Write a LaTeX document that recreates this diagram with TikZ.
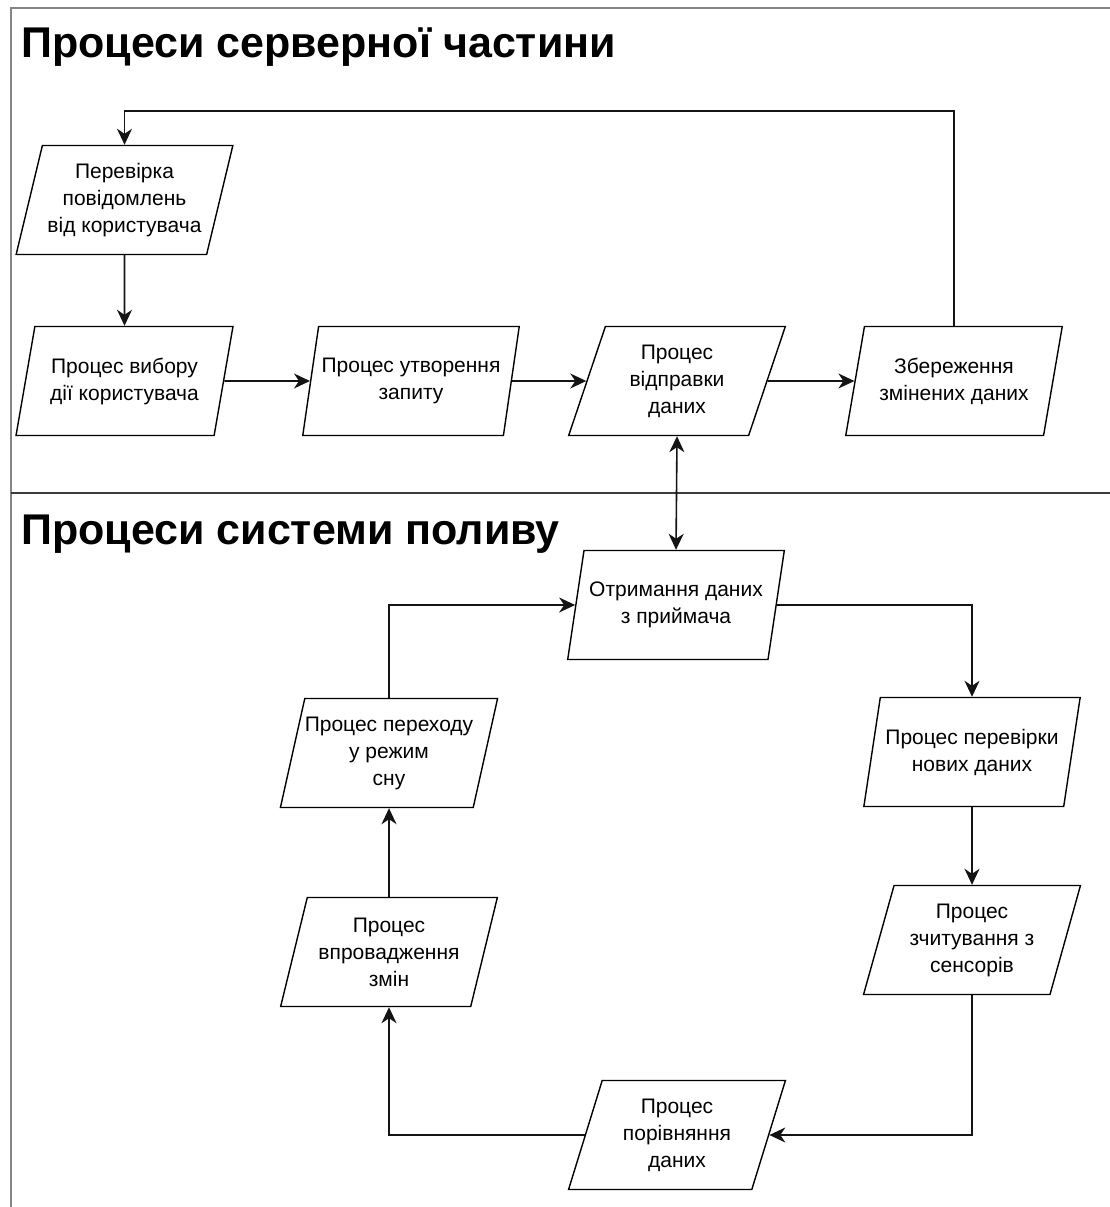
\documentclass[tikz,border=0pt]{standalone}
\usepackage{fontspec}
\setmainfont{Liberation Sans}
\usetikzlibrary{shapes.geometric,arrows.meta}
\definecolor{framegray}{HTML}{858585}
\definecolor{dividergray}{HTML}{3C3C3C}
\definecolor{ink}{HTML}{141414}
\begin{document}
\begin{tikzpicture}[x=1pt,y=-1pt,
  para/.style={draw=black, line width=1.4pt, fill=white,
    trapezium, trapezium left angle=71.5, trapezium right angle=108.5,
    trapezium stretches=true, minimum width=217pt, minimum height=109pt,
    inner sep=0pt, align=center, font=\fontsize{21}{27}\selectfont},
  flow/.style={draw=ink, line width=1.6pt, -{Stealth[length=16pt,width=15pt,inset=5pt]}},
  both/.style={draw=ink, line width=1.6pt, {Stealth[length=16pt,width=15pt,inset=5pt]}-{Stealth[length=16pt,width=15pt,inset=5pt]}},
  heading/.style={anchor=base west, inner sep=0pt, font=\fontsize{43}{50}\selectfont\bfseries},
  frame/.style={draw=framegray, line width=2.8pt},
  divider/.style={draw=dividergray, line width=2.8pt}]
\useasboundingbox[fill=white] (0,0) rectangle (1109,1207);

% lane frame and divider
\draw[frame] (11,1215) -- (11,8) -- (1115,8);
\draw[divider] (11,493) -- (1115,493);

% lane headings
\node[heading] (h1) at (21,58) {Процеси серверної частини};
\node[heading] (h2) at (21,544) {Процеси системи поливу};

% server-side processes
\node[para] (check) at (124.5,200) {Перевірка\\повідомлень\\від користувача};
\node[para] (choose) at (124.5,381) {Процес вибору\\дії користувача};
\node[para] (query) at (411,381) {Процес утворення\\запиту};
\node[para] (send) at (677,381) {Процес\\відправки\\даних};
\node[para] (store) at (954,381) {Збереження\\змінених даних};

% irrigation system processes
\node[para] (recv) at (676,605) {Отримання даних\\з приймача};
\node[para] (newdata) at (972,752) {Процес перевірки\\нових даних};
\node[para] (sensors) at (972,940) {Процес\\зчитування з\\сенсорів};
\node[para] (compare) at (677,1135) {Процес\\порівняння\\даних};
\node[para] (apply) at (389,952) {Процес\\впровадження\\змін};
\node[para] (sleep) at (389,753) {Процес переходу\\у режим\\сну};

% server-side flow
\draw[flow] (store.north) -- (store.north |- 0,111) -| (check.north);
\draw[flow] (check.south) -- (choose.north);
\draw[flow] (choose.east) -- (query.west);
\draw[flow] (query.east) -- (send.west);
\draw[flow] (send.east) -- (store.west);

% link between the lanes
\draw[both] (send.south) -- (recv.north);

% irrigation cycle
\draw[flow] (recv.east) -| (newdata.north);
\draw[flow] (newdata.south) -- (sensors.north);
\draw[flow] (sensors.south) |- (compare.east);
\draw[flow] (compare.west) -| (apply.south);
\draw[flow] (apply.north) -- (sleep.south);
\draw[flow] (sleep.north) |- (recv.west);
\end{tikzpicture}
\end{document}
